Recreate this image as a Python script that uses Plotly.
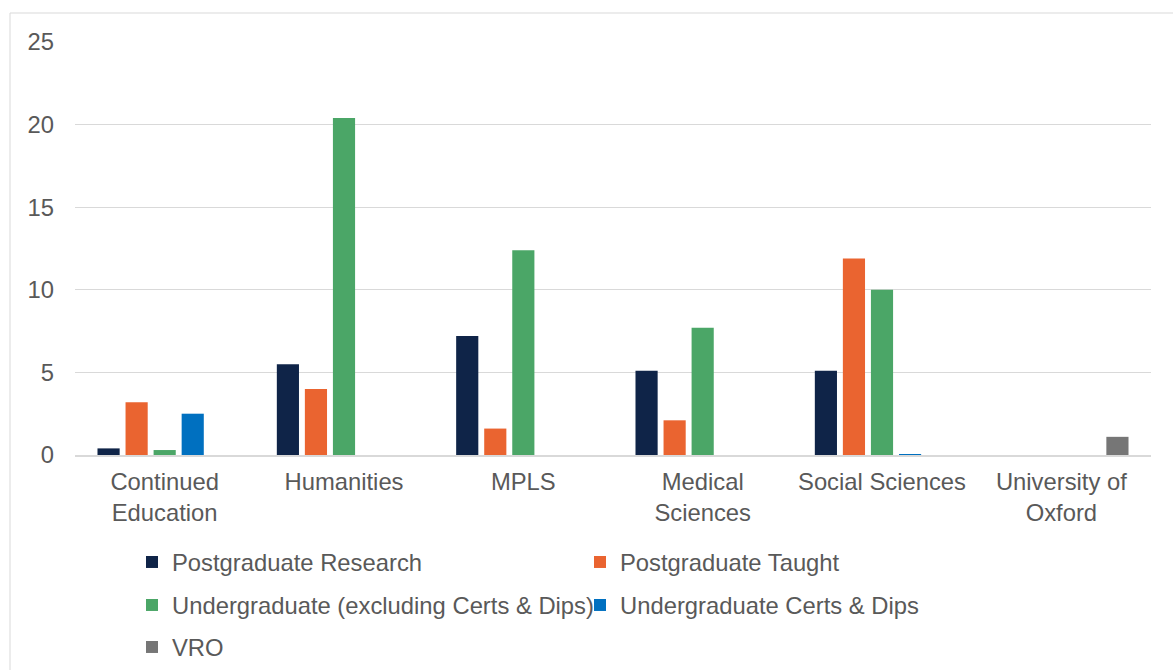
import plotly.graph_objects as go

# Faculty / division categories along the x axis
categories = [
    "Continued<br>Education",
    "Humanities",
    "MPLS",
    "Medical<br>Sciences",
    "Social Sciences",
    "University of<br>Oxford",
]

# Series values per category
postgraduate_research = [0.4, 5.5, 7.2, 5.1, 5.1, 0]
postgraduate_taught = [3.2, 4.0, 1.6, 2.1, 11.9, 0]
undergraduate_excl = [0.3, 20.4, 12.4, 7.7, 10.0, 0]
undergraduate_certs = [2.5, 0, 0, 0, 0.05, 0]
vro = [0, 0, 0, 0, 0, 1.1]

y_ticks = [0, 5, 10, 15, 20, 25]

series = [
    ("Postgraduate Research", postgraduate_research, "#0F2448", "legend"),
    ("Postgraduate Taught", postgraduate_taught, "#EA6430", "legend"),
    ("Undergraduate (excluding Certs & Dips)", undergraduate_excl, "#4BA667", "legend2"),
    ("Undergraduate Certs & Dips", undergraduate_certs, "#0070C0", "legend2"),
    ("VRO", vro, "#767676", "legend3"),
]

FONT = "Liberation Sans, Arial, sans-serif"
TEXT = "#595959"
GRID = "#D9D9D9"
FS = 23.8

fig = go.Figure()
for name, vals, color, leg in series:
    fig.add_trace(go.Bar(
        x=categories, y=vals, name=name,
        marker=dict(color=color, line=dict(width=0)),
        legend=leg,
    ))

# Plot area: left 75px, right 1151px, top 42px, bottom 455px
L, R, T, B = 75, 22, 42, 215
W, H = 1173, 670
pw = W - L - R
ph = H - T - B


def px_to_paper_x(px):
    return (px - L) / pw


def px_to_paper_y(py):
    return (H - B - py) / ph


legend_common = dict(
    orientation="h",
    xanchor="left",
    yanchor="middle",
    font=dict(family=FONT, size=FS, color=TEXT),
    bgcolor="rgba(0,0,0,0)",
    entrywidthmode="pixels",
    entrywidth=403,
    itemclick=False,
    itemdoubleclick=False,
)

fig.update_layout(
    width=W, height=H,
    margin=dict(l=L, r=R, t=T, b=B, pad=0, autoexpand=False),
    paper_bgcolor="white",
    plot_bgcolor="white",
    barmode="group",
    bargap=0.218,
    bargroupgap=0.21,
    font=dict(family=FONT, size=FS, color=TEXT),
    legend=dict(x=px_to_paper_x(132), y=px_to_paper_y(562), **legend_common),
    legend2=dict(x=px_to_paper_x(132), y=px_to_paper_y(605), **legend_common),
    legend3=dict(x=px_to_paper_x(132), y=px_to_paper_y(647), **legend_common),
    xaxis=dict(
        showgrid=False,
        showline=True, linecolor=GRID, linewidth=1.5,
        ticks="", ticklabelstandoff=5,
        tickfont=dict(family=FONT, size=FS, color=TEXT),
        fixedrange=True,
    ),
    yaxis=dict(
        range=[0, 25],
        tickvals=y_ticks,
        showgrid=True, gridcolor=GRID, gridwidth=1,
        zeroline=False, showline=False,
        ticks="", ticklabelstandoff=20,
        tickfont=dict(family=FONT, size=FS, color=TEXT),
        fixedrange=True,
    ),
    shapes=[dict(
        type="rect", xref="paper", yref="paper",
        x0=px_to_paper_x(10), x1=px_to_paper_x(1190),
        y0=px_to_paper_y(690), y1=px_to_paper_y(13),
        line=dict(color=GRID, width=1),
        fillcolor="rgba(0,0,0,0)", layer="below",
    )],
)

fig.write_html("out.html", config={"displayModeBar": False})
